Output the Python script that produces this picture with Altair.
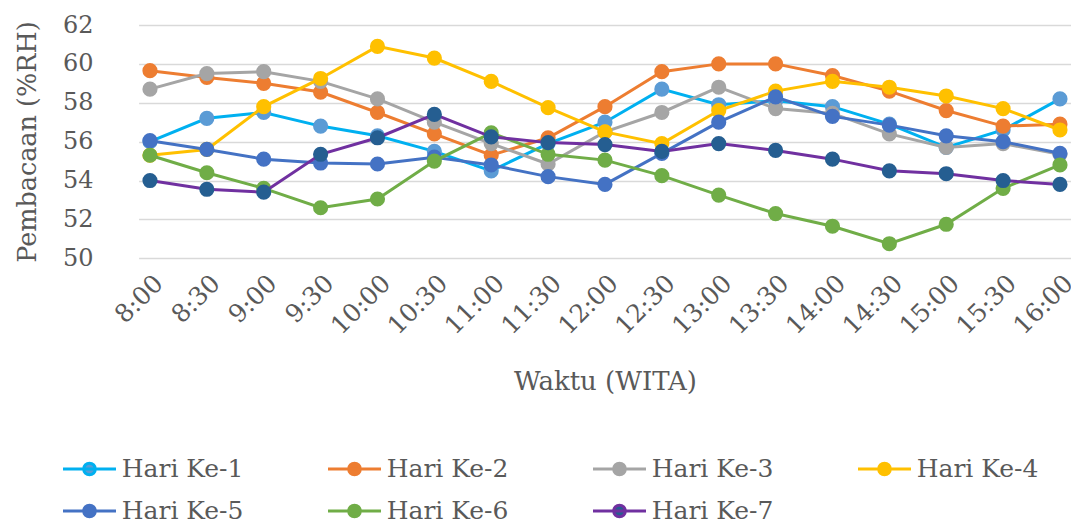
import altair as alt
import pandas as pd

times = ["8:00", "8:30", "9:00", "9:30", "10:00", "10:30", "11:00", "11:30", "12:00",
         "12:30", "13:00", "13:30", "14:00", "14:30", "15:00", "15:30", "16:00"]
series_names = ["Hari Ke-1", "Hari Ke-2", "Hari Ke-3", "Hari Ke-4",
                "Hari Ke-5", "Hari Ke-6", "Hari Ke-7"]

hari1 = [56.0, 57.2, 57.5, 56.8, 56.3, 55.5, 54.5, 55.9, 57.0, 58.7, 57.9, 58.1, 57.8, 56.9, 55.7, 56.6, 58.2]
hari2 = [59.65, 59.3, 59.0, 58.55, 57.5, 56.4, 55.3, 56.2, 57.8, 59.6, 60.0, 60.0, 59.4, 58.6, 57.6, 56.8, 56.9]
hari3 = [58.7, 59.5, 59.6, 59.1, 58.2, 57.0, 55.9, 54.85, 56.5, 57.5, 58.8, 57.7, 57.45, 56.4, 55.7, 55.9, 55.35]
hari4 = [55.3, 55.6, 57.8, 59.25, 60.9, 60.3, 59.1, 57.75, 56.5, 55.9, 57.6, 58.6, 59.1, 58.8, 58.35, 57.7, 56.6]
hari5 = [56.05, 55.6, 55.1, 54.9, 54.85, 55.2, 54.8, 54.2, 53.8, 55.4, 57.0, 58.3, 57.3, 56.85, 56.3, 56.0, 55.4]
hari6 = [55.3, 54.4, 53.6, 52.6, 53.05, 55.0, 56.45, 55.35, 55.05, 54.25, 53.25, 52.3, 51.65, 50.75, 51.75, 53.6, 54.8]
hari7 = [54.0, 53.55, 53.4, 55.35, 56.2, 57.4, 56.25, 55.95, 55.85, 55.5, 55.9, 55.55, 55.1, 54.5, 54.35, 54.0, 53.8]

line_colors = ["#00B0F0", "#ED7D31", "#A5A5A5", "#FFC000", "#4472C4", "#70AD47", "#7030A0"]
marker_colors = ["#5B9BD5", "#ED7D31", "#A5A5A5", "#FFC000", "#4472C4", "#70AD47", "#255E91"]
y_ticks = [50, 52, 54, 56, 58, 60, 62]

all_vals = [hari1, hari2, hari3, hari4, hari5, hari6, hari7]
rows = []
for name, vals in zip(series_names, all_vals):
    for t, v in zip(times, vals):
        rows.append({"Waktu": t, "Seri": name, "RH": v})
df = pd.DataFrame(rows)

FONT = "DejaVu Serif"
TXT = "#595959"

x_enc = alt.X(
    "Waktu:N", sort=times,
    scale=alt.Scale(type="point", padding=0.2),
    axis=alt.Axis(title="Waktu (WITA)", labelAngle=-45, labelFontSize=25, labelFont=FONT,
                  labelColor=TXT, labelPadding=12, domain=False, ticks=False, grid=False,
                  titleFontSize=26, titleFont=FONT, titleColor=TXT, titleFontWeight="normal",
                  titlePadding=30, labelOverlap=False),
)
y_enc = alt.Y(
    "RH:Q",
    scale=alt.Scale(domain=[50, 62], nice=False, zero=False),
    axis=alt.Axis(title="Pembacaan (%RH)", values=y_ticks, labelFontSize=24, labelFont=FONT,
                  labelColor=TXT, labelPadding=29, offset=16.6, domain=False, ticks=False,
                  grid=True, gridColor="#D9D9D9", gridWidth=1.5,
                  titleFontSize=25.5, titleFont=FONT, titleColor=TXT, titleFontWeight="normal",
                  titlePadding=22),
)

sym_path = "M-3,0L1,0M-0.56,0A0.44,0.44,0,1,1,-1.44,0A0.44,0.44,0,1,1,-0.56,0Z"
legend = alt.Legend(
    title=None, orient="none", legendX=-50.85, legendY=429, columns=4,
    symbolType=sym_path, symbolSize=702, symbolStrokeWidth=3, symbolOpacity=1,
    labelFontSize=25, labelFont=FONT, labelColor=TXT, labelOffset=4, labelLimit=400,
    columnPadding=78, rowPadding=14, padding=0, direction="horizontal",
)

stroke_enc = alt.Stroke("Seri:N", scale=alt.Scale(domain=series_names, range=line_colors), legend=legend)
fill_enc = alt.Fill("Seri:N", scale=alt.Scale(domain=series_names, range=marker_colors), legend=legend)

base = alt.Chart(df)
layers = []
for name in series_names:
    sub = base.transform_filter(alt.datum.Seri == name)
    layers.append(sub.mark_line(strokeWidth=3).encode(x=x_enc, y=y_enc, stroke=stroke_enc))
    layers.append(sub.mark_circle(size=230, opacity=1).encode(x=x_enc, y=y_enc, fill=fill_enc))

chart = alt.layer(*layers).properties(
    width=932.75, height=233.3,
    autosize=alt.AutoSizeParams(type="none"),
    padding={"left": 130.6, "top": 17, "right": 0, "bottom": 262.7},
).configure_view(stroke=None)

chart.save("out.html", embed_options={"renderer": "svg", "actions": False})
